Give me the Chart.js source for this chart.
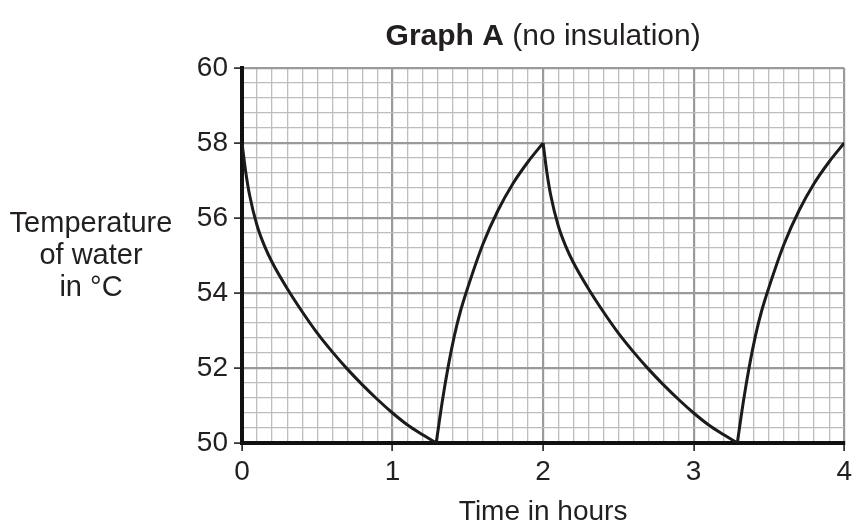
<!DOCTYPE html>
<html>
<head>
<meta charset="utf-8">
<script src="https://cdn.jsdelivr.net/npm/chart.js@4/dist/chart.umd.min.js"></script>
<style>
  body { margin: 0; background: #fff; }
  #wrap { width: 856px; height: 524px; position: relative; }
</style>
</head>
<body>
<div id="wrap"><canvas id="myChart"></canvas></div>
<script>
'use strict';

// ---- data
var fall1Times = [0, 0.025, 0.05, 0.1, 0.15, 0.2, 0.3, 0.4, 0.5, 0.6, 0.7, 0.8, 0.9, 1.0, 1.1, 1.2, 1.29];
var fall1Temps = [58, 57.22, 56.62, 55.8, 55.25, 54.82, 54.12, 53.5, 52.93, 52.43, 51.97, 51.55, 51.16, 50.8, 50.48, 50.22, 50];
var rise1Times = [1.29, 1.33, 1.37, 1.41, 1.45, 1.5, 1.6, 1.7, 1.8, 1.9, 2.0];
var rise1Temps = [50, 51.1, 52.05, 52.85, 53.5, 54.15, 55.3, 56.2, 56.92, 57.5, 58];
var fall2Times = [2.0, 2.025, 2.05, 2.1, 2.15, 2.2, 2.3, 2.4, 2.5, 2.6, 2.7, 2.8, 2.9, 3.0, 3.1, 3.2, 3.29];
var fall2Temps = [58, 57.22, 56.62, 55.8, 55.25, 54.82, 54.12, 53.5, 52.93, 52.43, 51.97, 51.55, 51.16, 50.8, 50.48, 50.22, 50];
var rise2Times = [3.29, 3.33, 3.37, 3.41, 3.45, 3.5, 3.6, 3.7, 3.8, 3.9, 4.0];
var rise2Temps = [50, 51.1, 52.05, 52.85, 53.5, 54.15, 55.3, 56.2, 56.92, 57.5, 58];

var xMajorTicks = [0, 1, 2, 3, 4];
var yMajorTicks = [50, 52, 54, 56, 58, 60];

var titleBold = 'Graph A';
var titleRest = ' (no insulation)';
var yTitleLines = ['Temperature', 'of water', 'in °C'];
var xTitle = 'Time in hours';

//-------
var fam = '"Liberation Sans", Arial, Helvetica, sans-serif';
var textColor = '#231f20';
var minorGrid = '#bdbdbd';
var majorGrid = '#9a9a9a';

function toPoints(xs, ys){
    var pts = [];
    for (var i = 0; i < xs.length; i++) {
        pts.push({x: xs[i], y: ys[i]});
    }
    return pts;
}

function isMajor(v, list){
    for (var i = 0; i < list.length; i++) {
        if (Math.abs(v - list[i]) < 1e-6) return true;
    }
    return false;
}

function curve(xs, ys){
    return {
        data: toPoints(xs, ys),
        borderColor: '#1c1a1b',
        borderWidth: 3,
        pointRadius: 0,
        fill: false,
        cubicInterpolationMode: 'monotone'
    };
}

var textPlugin = {
    id: 'texts',
    afterDraw: function(chart){
        var ctx = chart.ctx;
        var a = chart.chartArea;
        var cx = (a.left + a.right) / 2;
        ctx.save();
        ctx.fillStyle = textColor;
        ctx.textBaseline = 'alphabetic';
        ctx.font = 'bold 30px ' + fam;
        var w1 = ctx.measureText(titleBold).width;
        ctx.font = '30px ' + fam;
        var w2 = ctx.measureText(titleRest).width;
        var x0 = cx - (w1 + w2) / 2;
        ctx.textAlign = 'left';
        ctx.font = 'bold 30px ' + fam;
        ctx.fillText(titleBold, x0, 45);
        ctx.font = '30px ' + fam;
        ctx.fillText(titleRest, x0 + w1, 45);

        ctx.font = '29px ' + fam;
        ctx.textAlign = 'center';
        for (var i = 0; i < yTitleLines.length; i++) {
            ctx.fillText(yTitleLines[i], 91, 232 + i * 32);
        }
        ctx.font = '28px ' + fam;
        ctx.fillText(xTitle, cx, 520);
        ctx.restore();
    }
};

var ctx = document.getElementById('myChart').getContext('2d');
var chart = new Chart(ctx, {
    type: 'line',
    data: {
        datasets: [
            curve(fall1Times, fall1Temps),
            curve(rise1Times, rise1Temps),
            curve(fall2Times, fall2Temps),
            curve(rise2Times, rise2Temps)
        ]
    },
    options: {
        responsive: true,
        maintainAspectRatio: false,
        animation: false,
        layout: { padding: { top: 68, right: 10, left: 0, bottom: 0 } },
        plugins: {
            legend: { display: false },
            tooltip: { enabled: false }
        },
        scales: {
            x: {
                type: 'linear',
                min: 0,
                max: 4,
                afterFit: function(scale){ scale.height = 81; },
                border: { color: '#111', width: 4 },
                grid: {
                    color: function(c){ return isMajor(c.tick.value, xMajorTicks) ? majorGrid : minorGrid; },
                    lineWidth: function(c){ return isMajor(c.tick.value, xMajorTicks) ? 2.2 : 1.3; },
                    tickColor: function(c){ return isMajor(c.tick.value, xMajorTicks) ? '#111' : 'rgba(0,0,0,0)'; },
                    tickWidth: 1.5,
                    tickLength: 8
                },
                ticks: {
                    stepSize: 0.1,
                    autoSkip: false,
                    maxRotation: 0,
                    padding: 4,
                    color: textColor,
                    font: { family: fam, size: 28 },
                    callback: function(v){ return isMajor(v, xMajorTicks) ? String(Math.round(v)) : ''; }
                }
            },
            y: {
                min: 50,
                max: 60,
                afterFit: function(scale){ scale.width = 242; },
                border: { color: '#111', width: 4 },
                grid: {
                    color: function(c){ return isMajor(c.tick.value, yMajorTicks) ? majorGrid : minorGrid; },
                    lineWidth: function(c){ return isMajor(c.tick.value, yMajorTicks) ? 2.2 : 1.3; },
                    tickColor: function(c){ return isMajor(c.tick.value, yMajorTicks) ? '#111' : 'rgba(0,0,0,0)'; },
                    tickWidth: 1.5,
                    tickLength: 8
                },
                ticks: {
                    stepSize: 0.4,
                    autoSkip: false,
                    padding: 6,
                    color: textColor,
                    font: { family: fam, size: 28 },
                    callback: function(v){ return isMajor(v, yMajorTicks) ? String(Math.round(v)) : ''; }
                }
            }
        }
    },
    plugins: [textPlugin]
});
</script>
</body>
</html>
